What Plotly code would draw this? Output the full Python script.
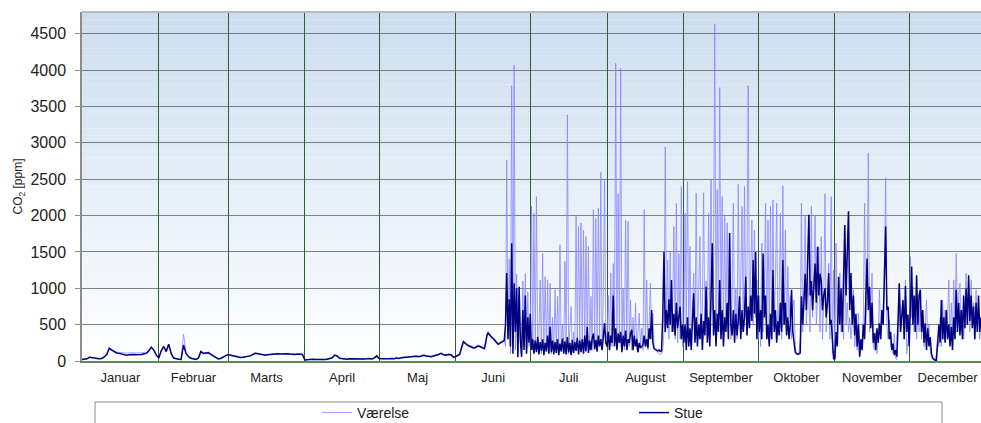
import numpy as np
import plotly.graph_objects as go

# ---------------- data ----------------
month_names = ["Januar", "Februar", "Marts", "April", "Maj", "Juni",
               "Juli", "August", "September", "Oktober", "November", "December"]
month_start_day = [0, 31, 59, 90, 120, 151, 181, 212, 243, 273, 304, 334, 365]
y_ticks = [0, 500, 1000, 1500, 2000, 2500, 3000, 3500, 4000, 4500]

# Daily values, 1 January - 31 May (day 0 .. 150)
stue_jan_maj = [
    20, 25, 30, 50, 45, 30, 25, 30, 35, 55,
    90, 175, 150, 130, 110, 105, 95, 85, 80, 85,
    90, 88, 85, 85, 90, 100, 105, 140, 190, 150,
    80, 40, 140, 200, 130, 230, 105, 40, 28, 25,
    22, 220, 105, 60, 37, 30, 22, 40, 130, 105,
    110, 115, 90, 70, 40, 28, 35, 50, 70, 90,
    80, 70, 60, 50, 47, 50, 55, 60, 70, 90,
    105, 100, 90, 85, 80, 85, 90, 100, 105, 100,
    95, 100, 100, 100, 95, 90, 90, 95, 95, 90,
    13, 20, 22, 25, 22, 20, 25, 22, 20, 25,
    30, 45, 80, 70, 37, 30, 28, 25, 30, 28,
    35, 28, 30, 25, 28, 30, 35, 28, 40, 70,
    35, 30, 28, 32, 30, 35, 30, 40, 35, 45,
    50, 45, 55, 60, 70, 65, 60, 75, 80, 70,
    65, 60, 70, 75, 90, 105, 85, 80, 90, 85,
    50]
vaer_jan_maj = [
    22, 28, 32, 55, 48, 32, 28, 32, 38, 60,
    95, 180, 160, 140, 120, 118, 112, 110, 108, 112,
    115, 115, 112, 112, 115, 118, 115, 145, 195, 155,
    85, 45, 145, 205, 135, 235, 110, 45, 30, 28,
    25, 370, 110, 65, 40, 32, 25, 45, 135, 110,
    115, 120, 95, 75, 45, 30, 38, 55, 75, 95,
    85, 75, 65, 55, 50, 55, 60, 65, 75, 95,
    110, 105, 95, 90, 85, 90, 95, 105, 110, 105,
    100, 105, 105, 105, 100, 95, 95, 100, 98, 95,
    15, 22, 25, 28, 25, 22, 28, 25, 22, 28,
    32, 48, 85, 75, 40, 32, 30, 28, 32, 30,
    38, 30, 32, 28, 30, 32, 38, 30, 45, 75,
    38, 32, 30, 35, 32, 38, 32, 45, 38, 50,
    55, 50, 60, 65, 75, 70, 65, 80, 85, 75,
    70, 65, 75, 80, 95, 110, 90, 85, 95, 90,
    55]

# Half-daily values, 1 June onwards (day 151 + 0.5 * index)
stue_jun = [60, 70, 80, 90, 150, 230, 265, 250, 230, 220,
            210, 200, 190, 185, 180, 180, 190, 200, 206, 200,
            190, 180, 175, 170, 250, 350, 385, 360, 340, 320,
            310, 290, 260, 240, 230, 240, 250, 260, 265, 280,
            500, 1210, 300, 850, 200, 1620, 100, 1070, 400, 1000,
            50, 1020, 300, 60, 700, 150, 900, 100, 600, 250]
vaer_jun = [70, 80, 90, 100, 170, 250, 280, 265, 245, 235,
            225, 215, 205, 200, 195, 195, 205, 215, 220, 215,
            205, 195, 190, 185, 270, 370, 400, 375, 355, 335,
            325, 305, 275, 255, 245, 255, 265, 275, 280, 300,
            200, 2765, 300, 1400, 100, 3785, 200, 4065, 150, 1200,
            100, 900, 250, 50, 1100, 200, 1200, 100, 950, 200]
stue_jul = [650, 150, 300, 100, 280, 120, 330, 90, 260, 140,
            300, 80, 250, 130, 350, 100, 470, 120, 280, 90,
            260, 110, 300, 80, 240, 130, 310, 100, 270, 90,
            330, 120, 250, 80, 290, 110, 260, 140, 320, 90,
            280, 120, 300, 100, 350, 130, 470, 110, 280, 150,
            310, 380, 160, 290, 130, 350, 200, 300, 150, 380,
            520, 250]
vaer_jul = [300, 2125, 150, 2030, 200, 2260, 150, 350, 1115, 100,
            1480, 200, 1160, 150, 1115, 100, 1070, 100, 600, 120,
            980, 150, 890, 100, 1600, 150, 500, 100, 1370, 150,
            3385, 100, 450, 750, 120, 400, 150, 1990, 200, 1850,
            250, 1900, 200, 1800, 150, 1710, 200, 1575, 150, 890,
            150, 2080, 250, 1960, 200, 2100, 300, 2600, 200, 840,
            2490, 400]
stue_aug = [200, 400, 150, 350, 250, 900, 200, 450, 150, 380,
            250, 400, 120, 350, 200, 420, 150, 300, 250, 380,
            430, 150, 350, 200, 300, 120, 250, 180, 200, 220,
            350, 200, 300, 180, 450, 300, 700, 250, 170, 160,
            150, 140, 150, 130, 140, 600, 1500, 400, 700, 450,
            850, 500, 1115, 400, 650, 350, 800, 450, 600, 750,
            300, 500]
vaer_aug = [300, 900, 200, 1210, 200, 1340, 300, 4095, 250, 2300,
            300, 4025, 200, 1000, 150, 1940, 300, 1920, 200, 840,
            150, 600, 200, 800, 150, 500, 660, 200, 450, 150,
            2080, 200, 1115, 150, 500, 1070, 300, 660, 200, 150,
            120, 110, 100, 90, 100, 150, 400, 2945, 500, 1390,
            300, 1500, 400, 800, 1850, 300, 2170, 250, 1480, 300,
            2400, 200]
stue_sep = [250, 500, 150, 600, 200, 450, 150, 550, 930, 250,
            600, 200, 500, 300, 650, 150, 550, 350, 1020, 250,
            600, 200, 800, 1620, 350, 700, 200, 650, 400, 1115,
            300, 700, 200, 600, 400, 800, 300, 1760, 500, 350,
            700, 250, 650, 350, 550, 890, 300, 700, 400, 600,
            1160, 350, 750, 450, 900, 550, 1390, 650, 1500, 300]
vaer_sep = [400, 2030, 500, 2470, 400, 1575, 300, 800, 1210, 300,
            2310, 400, 900, 1710, 300, 700, 2315, 400, 1100, 500,
            2030, 600, 2490, 700, 1300, 4637, 500, 2355, 600, 3760,
            500, 2260, 400, 1990, 500, 1900, 400, 1200, 300, 900,
            2170, 400, 1000, 300, 2430, 500, 1100, 2125, 400, 2400,
            600, 1300, 3785, 500, 1200, 1940, 500, 1800, 600, 1115]
stue_okt = [900, 400, 700, 300, 1480, 600, 900, 300, 500, 200,
            650, 300, 1250, 400, 700, 250, 550, 350, 800, 400,
            1390, 500, 800, 350, 600, 300, 500, 980, 400, 290,
            120, 100, 90, 100, 110, 890, 500, 800, 1200, 700,
            1500, 2010, 900, 1100, 700, 1000, 1340, 800, 1570, 900,
            1200, 1100, 700, 900, 1000, 600, 800, 1210, 500, 565,
            200, 30]
vaer_okt = [300, 900, 200, 1620, 400, 1000, 2170, 300, 1940, 400,
            2125, 300, 2215, 500, 1100, 2170, 400, 800, 2030, 300,
            2410, 500, 1800, 400, 1300, 600, 900, 300, 700, 840,
            200, 100, 90, 100, 300, 2170, 400, 1000, 1990, 500,
            1200, 800, 400, 2125, 600, 1100, 2000, 500, 900, 1570,
            400, 1710, 300, 800, 2300, 400, 1000, 1345, 300, 2260,
            100, 1250]
stue_nov = [30, 400, 200, 1160, 500, 1000, 400, 1300, 1870, 900,
            1500, 2060, 700, 1210, 500, 900, 350, 650, 200, 500,
            60, 300, 150, 500, 300, 900, 1410, 700, 1020, 450,
            800, 250, 380, 150, 450, 250, 520, 300, 700, 500,
            1200, 1850, 700, 750, 300, 400, 150, 240, 80, 150,
            60, 500, 1070, 400, 700, 840, 300, 1030, 400, 640]
vaer_nov = [50, 1620, 300, 800, 1210, 400, 700, 300, 1575, 500,
            800, 400, 600, 300, 500, 980, 200, 400, 150, 660,
            50, 150, 300, 600, 2170, 500, 900, 2860, 400, 700,
            1210, 200, 150, 400, 100, 300, 980, 300, 500, 700,
            1000, 2520, 500, 300, 565, 200, 150, 100, 380, 50,
            20, 300, 1020, 400, 500, 700, 300, 1115, 100, 300]
stue_dec = [200, 900, 1300, 500, 900, 400, 1180, 500, 900, 980,
            400, 700, 250, 520, 150, 450, 200, 330, 100, 40,
            20, 10, 10, 200, 500, 250, 840, 300, 600, 250,
            700, 300, 500, 200, 470, 150, 600, 300, 980, 400,
            800, 350, 700, 300, 900, 450, 1000, 500, 1180, 550,
            900, 450, 750, 300, 800, 400, 900, 400, 600]
vaer_dec = [300, 1435, 600, 1020, 400, 890, 300, 700, 400, 930,
            300, 600, 200, 500, 840, 300, 500, 150, 50, 20,
            10, 10, 100, 300, 200, 600, 200, 840, 300, 700,
            400, 600, 1115, 300, 800, 400, 1115, 500, 1480, 600,
            900, 1070, 400, 700, 300, 900, 1210, 500, 1000, 400,
            1115, 600, 800, 300, 980, 500, 700, 300, 600]

# ---------------- assemble ----------------
def build(early, late_parts):
    late = [v for part in late_parts for v in part]
    x = np.concatenate([np.arange(len(early)),
                        month_start_day[5] + 0.5 * np.arange(len(late))])
    y = np.array(early + late, dtype=float)
    return x, y

x_stue, y_stue = build(stue_jan_maj, [stue_jun, stue_jul, stue_aug, stue_sep, stue_okt, stue_nov, stue_dec])
x_vaer, y_vaer = build(vaer_jan_maj, [vaer_jun, vaer_jul, vaer_aug, vaer_sep, vaer_okt, vaer_nov, vaer_dec])

month_mid = [(a + b) / 2 for a, b in zip(month_start_day[:-1], month_start_day[1:])]

fig = go.Figure()
fig.add_trace(go.Scatter(x=x_vaer, y=y_vaer, mode="lines", name="Værelse",
                         line=dict(color="rgba(135,135,255,0.8)", width=1)))
fig.add_trace(go.Scatter(x=x_stue, y=y_stue, mode="lines", name="Stue",
                         line=dict(color="#000080", width=1.5)))

# gradient background (light blue at top -> white at bottom)
Y_MAX = 4800
top_rgb = (204, 221, 239)
shapes = []
band = 100
for lo in range(0, Y_MAX, band):
    f = (lo + band / 2) / Y_MAX
    c = tuple(int(round(255 + (t - 255) * f)) for t in top_rgb)
    shapes.append(dict(type="rect", xref="paper", yref="y", x0=0, x1=1, y0=lo, y1=lo + band,
                       fillcolor="rgb(%d,%d,%d)" % c, line=dict(width=0), layer="below"))
# top border of plot
shapes.append(dict(type="line", xref="paper", yref="paper", x0=0, x1=1, y0=1, y1=1,
                   line=dict(color="#b9b9b9", width=2)))
# legend frame
shapes.append(dict(type="rect", xref="paper", yref="paper",
                   x0=(95 - 82) / 899, x1=(942 - 82) / 899,
                   y0=(361 - 440) / 349, y1=(361 - 402) / 349,
                   line=dict(color="#8c8c8c", width=1), fillcolor="rgba(0,0,0,0)"))

fig.update_layout(
    width=981, height=423,
    margin=dict(l=82, r=0, t=12, b=62, autoexpand=False),
    paper_bgcolor="white", plot_bgcolor="white",
    font=dict(family="Liberation Sans, Arial, sans-serif", color="#222222", size=13),
    shapes=shapes,
    showlegend=True,
    legend=dict(orientation="h", xanchor="left", yanchor="top",
                x=(317 - 82) / 899, y=(361 - 397) / 349,
                entrywidth=272, entrywidthmode="pixels",
                bgcolor="rgba(0,0,0,0)", borderwidth=0,
                font=dict(size=14, color="#222222")),
    xaxis=dict(range=[0, 363], tickmode="array", tickvals=month_mid, ticktext=month_names,
               showgrid=False, zeroline=False, ticks="", automargin=False,
               showline=True, linecolor="#5f8a60", linewidth=1.5,
               tickfont=dict(size=13), ticklabelstandoff=4,
               minor=dict(tickmode="array", tickvals=month_start_day[1:-1],
                          showgrid=True, gridcolor="#2f5e33", gridwidth=1.3, ticks="")),
    yaxis=dict(range=[0, Y_MAX], tickmode="array", tickvals=y_ticks, automargin=False,
               showgrid=True, gridcolor="rgba(70,78,88,0.7)", gridwidth=1.2,
               zeroline=False, ticks="outside", ticklen=5, tickcolor="#8c8c8c",
               showline=True, linecolor="#8c8c8c", linewidth=1.5,
               tickfont=dict(size=16), ticklabelstandoff=6,
               title=dict(text="CO<sub>2</sub> [ppm]", font=dict(size=12), standoff=5)),
)

fig.write_html("out.html", config={"displayModeBar": False},
               post_script="document.body.style.margin='0';document.body.style.overflow='hidden';")
